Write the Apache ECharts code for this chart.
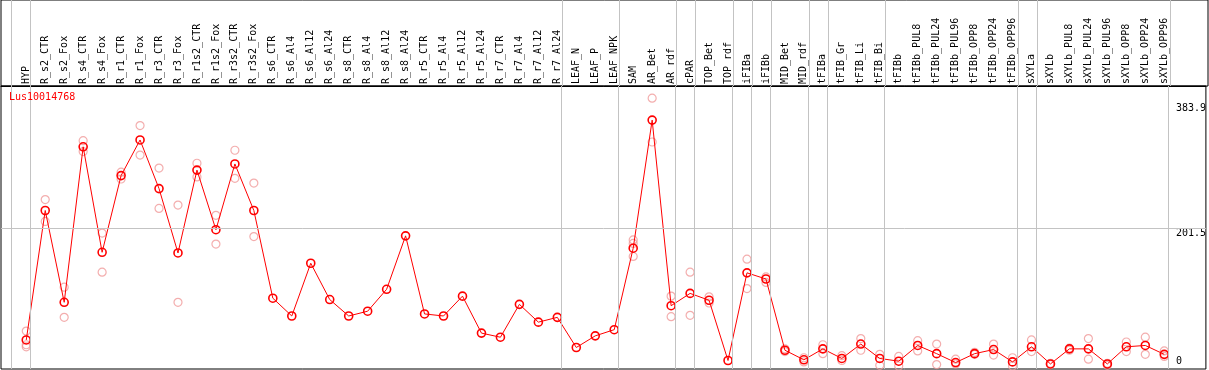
<!DOCTYPE html>
<html>
<head>
<meta charset="utf-8">
<script src="https://cdn.jsdelivr.net/npm/echarts@6/dist/echarts.min.js"></script>
<style>
html,body{margin:0;padding:0;background:#fff;}
#chart{width:1209px;height:370px;}
</style>
</head>
<body>
<div id="chart"></div>
<script>
const title = "Lus10014768";
const categories = ["HYP","R_s2_CTR","R_s2_Fox","R_s4_CTR","R_s4_Fox","R_r1_CTR","R_r1_Fox","R_r3_CTR","R_r3_Fox","R_r1s2_CTR","R_r1s2_Fox","R_r3s2_CTR","R_r3s2_Fox","R_s6_CTR","R_s6_Al4","R_s6_Al12","R_s6_Al24","R_s8_CTR","R_s8_Al4","R_s8_Al12","R_s8_Al24","R_r5_CTR","R_r5_Al4","R_r5_Al12","R_r5_Al24","R_r7_CTR","R_r7_Al4","R_r7_Al12","R_r7_Al24","LEAF_N","LEAF_P","LEAF_NPK","SAM","AR_Bet","AR_rdf","cPAR","TOP_Bet","TOP_rdf","iFIBa","iFIBb","MID_Bet","MID_rdf","tFIBa","tFIB_Gr","tFIB_Li","tFIB_Bi","tFIBb","tFIBb_PUL8","tFIBb_PUL24","tFIBb_PUL96","tFIBb_OPP8","tFIBb_OPP24","tFIBb_OPP96","sXYLa","sXYLb","sXYLb_PUL8","sXYLb_PUL24","sXYLb_PUL96","sXYLb_OPP8","sXYLb_OPP24","sXYLb_OPP96"];
const means = [38,227,93,320,166,278,330,259,165,286,199,295,227,99,73,150,97,73,80,112,190,76,73,102,48,42,90,64,71,27,44,53,172,359,88,106,96,8,136,127,23,9,25,11,32,11,7,30,18,5,18,24,6,28,3,25,25,3,28,30,17];
const replicates = [[51,31,28],[243,211],[115,71],[329,313],[194,137],[283,273],[351,308],[289,230],[235,93],[296,276],[220,178],[315,274],[267,189],[],[],[],[],[],[],[],[],[],[],[],[],[],[],[],[],[],[],[],[184,179,160],[391,327],[102,72],[137,74],[101,92],[],[156,113],[130,122],[25,21],[12,6],[31,18],[15,8],[40,23],[17,1],[14,0],[37,22],[32,2],[10,3],[20,17],[32,16],[12,0],[38,21],[4,2],[26,23],[40,10],[4,1],[35,21],[42,17],[22,14]];
const groupEnds = [-1,0,28,31,34,35,37,38,39,41,42,45,52,53,60];
const yTickValues = [0,201.5,383.9];
const yGridValue = 201.5;

const meanData = means.map((v,i)=>[i,v]);
const repData = [];
replicates.forEach((arr,i)=>arr.forEach(v=>repData.push([i,v])));
const catIdx = categories.map((c,i)=>i);

const FONT = "DejaVu Sans Mono";
const XMIN = -1.3316, XMAX = 62.195;
const sepLines = groupEnds.map(g=>({xAxis:g+0.23}));
const sepStyle = {color:'#c3c3c3',type:'solid',width:1};

const chart = echarts.init(document.getElementById('chart'), null, {renderer:'canvas'});
chart.setOption({
  animation:false,
  backgroundColor:'#fff',
  title:{text:title,left:9,top:92,padding:0,textStyle:{color:'#ff0000',fontFamily:FONT,fontSize:10,fontWeight:'normal'}},
  grid:[
    {left:1,right:1,top:86,bottom:1,show:true,borderColor:'#000',borderWidth:1,backgroundColor:'transparent'},
    {left:1,right:1,top:0,height:86,show:true,borderColor:'#000',borderWidth:1,backgroundColor:'transparent'}
  ],
  xAxis:[
    {type:'value',gridIndex:0,position:'top',min:XMIN,max:XMAX,
      axisLine:{show:true,onZero:false,lineStyle:{color:'#000',width:1}},
      axisTick:{show:false},splitLine:{show:false},
      axisLabel:{customValues:catIdx,rotate:-90,margin:2,color:'#000',fontFamily:FONT,fontSize:10,
        formatter:v=>categories[Math.round(v)]||''}},
    {type:'value',gridIndex:1,min:XMIN,max:XMAX,show:false}
  ],
  yAxis:[
    {type:'value',gridIndex:0,position:'right',min:-4.4,max:408.8,
      axisLine:{show:false},axisTick:{show:false},splitLine:{show:false},
      axisLabel:{customValues:yTickValues,inside:true,margin:30,align:'left',verticalAlign:'top',
        verticalAlignMinLabel:'bottom',color:'#000',fontFamily:FONT,fontSize:10,
        formatter:v=>String(v)}},
    {type:'value',gridIndex:1,min:0,max:1,show:false}
  ],
  series:[
    {type:'scatter',xAxisIndex:1,yAxisIndex:1,data:[],silent:true,
      markLine:{silent:true,symbol:'none',label:{show:false},animation:false,lineStyle:sepStyle,data:sepLines}},
    {type:'scatter',data:repData,symbol:'circle',symbolSize:8,z:2,
      itemStyle:{color:'rgba(0,0,0,0)',borderColor:'#f09a9a',borderWidth:1.2},
      markLine:{silent:true,symbol:'none',label:{show:false},animation:false,lineStyle:sepStyle,
        data:sepLines.concat([{yAxis:yGridValue}])}},
    {type:'line',data:meanData,symbol:'circle',symbolSize:8,z:3,
      lineStyle:{color:'#ff0000',width:1},
      itemStyle:{color:'rgba(0,0,0,0)',borderColor:'#ff0000',borderWidth:1.6}}
  ]
});
</script>
</body>
</html>
